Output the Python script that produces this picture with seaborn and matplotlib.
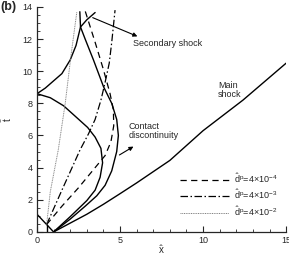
import numpy as np
import pandas as pd
import matplotlib
matplotlib.use("Agg")
import matplotlib.pyplot as plt
from matplotlib.lines import Line2D
from matplotlib.ticker import MultipleLocator
import seaborn as sns

# ---- data ----
main_x = [1, 2, 3, 4, 5, 6, 7, 8, 10, 12.4, 15]
main_t = [0, 0.55, 1.1, 1.72, 2.38, 3.05, 3.75, 4.45, 6.3, 8.2, 10.5]

inner_x = [1, 2, 3, 3.5, 3.8, 3.95, 3.85, 3.5, 3.05, 2.3, 1.6, 0.8, 0]
inner_t = [0, 0.95, 1.95, 2.6, 3.4, 4.3, 5.2, 5.9, 6.5, 7.2, 7.85, 8.35, 8.6]

contact_x = [1, 2, 2.9, 3.6, 4.1, 4.5, 4.8, 4.9, 4.8, 4.5, 4.0, 3.4, 2.9, 2.62, 2.58]
contact_t = [0, 0.8, 1.6, 2.25, 2.9, 3.8, 5.0, 6.0, 7.0, 8.0, 9.05, 10.7, 12.0, 12.75, 13.7]

second_x = [0, 0.5, 1.0, 1.5, 2.0, 2.35, 2.62, 3.0, 3.5]
second_t = [8.6, 8.95, 9.4, 9.85, 10.7, 11.6, 12.75, 13.2, 13.65]

rare_x = [0, 1]
rare_t = [1.1, 0]

cloud_x = [0.58, 0.58]
cloud_t = [0, 0.46]

d4_x = [0.58, 1.5, 2.5, 3.5, 4.1, 4.45, 4.62, 4.6, 4.4, 4.0, 3.5, 2.9]
d4_t = [0.46, 1.6, 2.75, 4.0, 4.75, 5.6, 6.6, 7.6, 8.6, 10.1, 11.8, 13.75]

d3_x = [0.58, 1.5, 2.59, 3.1, 3.5, 3.85, 4.1, 4.35, 4.5, 4.6, 4.7]
d3_t = [0.46, 2.6, 5.1, 6.1, 7.0, 8.2, 9.3, 10.5, 11.8, 12.8, 13.8]

d2_x = [0.58, 0.8, 1.28, 1.7, 2.05, 2.4]
d2_t = [0.46, 2.5, 5.1, 8.0, 11.0, 13.7]

legend_labels = [r'$\hat{\mathrm{d}}^{\mathrm{p}}$=4×10$^{-4}$',
                 r'$\hat{\mathrm{d}}^{\mathrm{p}}$=4×10$^{-3}$',
                 r'$\hat{\mathrm{d}}^{\mathrm{p}}$=4×10$^{-2}$']
x_ticks = [0, 5, 10, 15]
y_ticks = [0, 2, 4, 6, 8, 10, 12, 14]

# ---- style ----
sns.set_style("ticks")
plt.rcParams['font.family'] = ['Liberation Sans', 'DejaVu Sans']
plt.rcParams['mathtext.fontset'] = 'custom'
plt.rcParams['mathtext.rm'] = 'Liberation Sans'
plt.rcParams['mathtext.it'] = 'Liberation Sans:italic'
plt.rcParams['mathtext.bf'] = 'Liberation Sans:bold'

fs = 6.5
fig = plt.figure(figsize=(2.89, 2.56), dpi=100)
ax = fig.add_axes([0.128, 0.094, 0.862, 0.879])

def draw(xs, ts, **kw):
    df = pd.DataFrame({'x': xs, 't': ts})
    sns.lineplot(data=df, x='x', y='t', sort=False, estimator=None, ax=ax, **kw)

solid = dict(color='black', lw=1.0)
draw(main_x, main_t, **solid)
draw(inner_x, inner_t, **solid)
draw(contact_x, contact_t, **solid)
draw(second_x, second_t, **solid)
draw(rare_x, rare_t, **solid)
draw(cloud_x, cloud_t, **solid)

dash_style = (0, (5, 3.5))
dashdot_style = (0, (6, 2, 1.2, 2))
dot_style = (0, (1, 0.8))
draw(d4_x, d4_t, color='black', lw=0.9, linestyle=dash_style)
draw(d3_x, d3_t, color='black', lw=0.9, linestyle=dashdot_style)
draw(d2_x, d2_t, color='#808080', lw=0.7, linestyle=dot_style)

ax.set_xlim(0, 15)
ax.set_ylim(0, 14)
ax.set_xticks(x_ticks)
ax.set_yticks(y_ticks)
ax.xaxis.set_minor_locator(MultipleLocator(1))
ax.yaxis.set_minor_locator(MultipleLocator(0.5))
ax.tick_params(which='major', direction='in', length=4, width=0.8, labelsize=fs, pad=3)
ax.tick_params(which='minor', direction='in', length=2, width=0.6)
for s in ['top', 'right']:
    ax.spines[s].set_visible(False)
for s in ['left', 'bottom']:
    ax.spines[s].set_linewidth(0.9)
ax.set_xlabel(r'$\hat{\mathrm{x}}$', fontsize=fs + 0.5, labelpad=-1)
ax.set_ylabel(r'$\hat{\mathrm{t}}$', fontsize=fs + 0.5, labelpad=6)

# annotations
arrow = dict(arrowstyle='-|>', color='black', lw=0.8, mutation_scale=6)
ax.annotate('', xy=(6.2, 12.1), xytext=(3.2, 13.4), arrowprops=arrow)
ax.text(5.8, 11.75, 'Secondary shock', fontsize=fs, va='center', ha='left')
ax.annotate('', xy=(5.95, 5.4), xytext=(4.82, 4.7), arrowprops=arrow)
ax.text(5.5, 6.3, 'Contact\ndiscontinuity', fontsize=fs, va='center', ha='left',
        linespacing=0.95)
ax.text(10.9, 8.85, 'Main\nshock', fontsize=fs, va='center', ha='left', linespacing=0.95)

handles = [Line2D([], [], color='black', lw=0.9, linestyle=dash_style),
           Line2D([], [], color='black', lw=0.9, linestyle=dashdot_style),
           Line2D([], [], color='#808080', lw=0.7, linestyle=dot_style)]
ax.legend(handles, legend_labels, loc='lower left', bbox_to_anchor=(0.55, 0.035),
          frameon=False, fontsize=fs, handlelength=5.4, handletextpad=0.6,
          labelspacing=0.3, borderpad=0.2)

fig.text(0.0, 0.995, '(b)', fontsize=9, fontweight='bold', va='top', ha='left')

fig.savefig('out.png', dpi=100)
